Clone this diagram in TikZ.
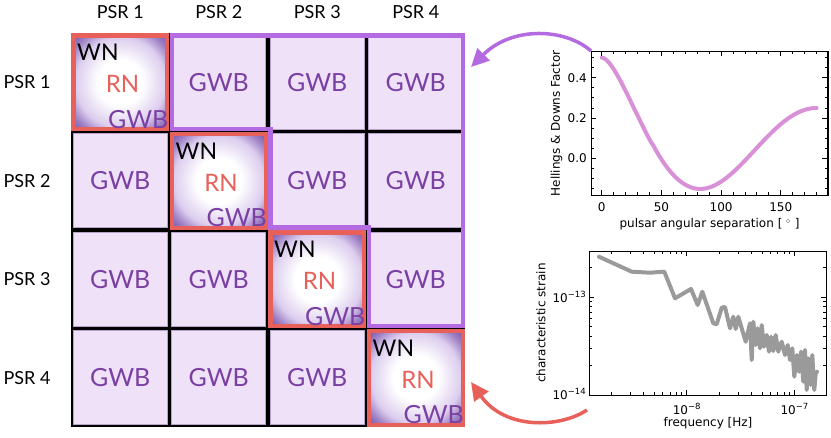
\documentclass[tikz,border=0pt]{standalone}
\usepackage{fontspec}
\setmainfont{Lato}
\newfontfamily\mplfont{DejaVu Sans}
\usetikzlibrary{arrows.meta}
\definecolor{cellfill}{HTML}{EFE1F8}
\definecolor{cellborder}{HTML}{B8A2CA}
\definecolor{gwbtext}{HTML}{7A40A4}
\definecolor{rntext}{HTML}{E8605A}
\definecolor{redline}{HTML}{E8605A}
\definecolor{purpline}{HTML}{B46BE1}
\definecolor{hdcurve}{HTML}{D890D6}
\definecolor{straincol}{HTML}{9A9A9A}
\definecolor{shmid}{HTML}{DCCDEE}
\definecolor{shdark}{HTML}{7650AA}
\pgfdeclareradialshading{diagshade}{\pgfpoint{0bp}{0bp}}{color(0bp)=(white); color(12bp)=(white); color(24bp)=(shmid); color(30bp)=(shdark!60!shmid); color(35.4bp)=(shdark); color(50bp)=(shdark)}
\tikzset{
  declare function={hdx(\t)=(1-cos(\t))/2; hdg(\t)=1.5*hdx(\t)*ln(hdx(\t))-hdx(\t)/4+0.5;},
  gwbcell/.style={draw=cellborder, line width=0.6pt, fill=cellfill, minimum size=94pt, inner sep=0pt, text=gwbtext, font=\fontsize{25}{25}\selectfont},
  diagcell/.style={shading=diagshade, minimum size=94pt, inner sep=0pt},
  redbox/.style={draw=redline, line width=4.2pt},
  purpbox/.style={draw=purpline, line width=4.5pt, line join=miter},
  psrlabel/.style={font=\fontsize{18}{18}\selectfont, inner sep=0pt},
  wnlabel/.style={font=\fontsize{23}{23}\selectfont, inner sep=0pt, anchor=base west},
  rnlabel/.style={font=\fontsize{24}{24}\selectfont, inner sep=0pt, text=rntext},
  gwblabel/.style={font=\fontsize{25}{25}\selectfont, inner sep=0pt, anchor=base east, text=gwbtext},
  plotbox/.style={draw=black, line width=1.3pt, inner sep=0pt, anchor=north west},
  mpl/.style={font=\mplfont\fontsize{12}{12}\selectfont, inner sep=0pt},
  tickmark/.style={draw=black, line width=0.8pt},
  hdline/.style={draw=hdcurve, line width=4pt, line cap=round, line join=round},
  strainline/.style={draw=straincol, line width=4pt, line cap=round, line join=round},
  purparrow/.style={draw=purpline, line width=3.5pt, -{Triangle[length=18pt,width=17pt]}},
  redarrow/.style={draw=redline, line width=3.5pt, -{Triangle[length=18pt,width=17pt]}}
}
\newcommand{\sups}[1]{\raisebox{5pt}{\mplfont\fontsize{8.5}{8.5}\selectfont #1}}
\begin{document}
\begin{tikzpicture}[x=1pt,y=-1pt]
\useasboundingbox (0,0) rectangle (831,438);
% matrix
\fill[black] (71,33) rectangle (465,427);
\foreach \r in {0,...,3}{
  \foreach \c in {0,...,3}{
    \pgfmathsetmacro\cx{120.25+98.5*\c}
    \pgfmathsetmacro\cy{82.25+98.5*\r}
    \ifnum\r=\c
      \node[diagcell] (cell\r\c) at (\cx,\cy) {};
    \else
      \node[gwbcell] (cell\r\c) at (\cx,\cy) {GWB};
    \fi
  }
}
% purple staircase outline
\draw[purpbox] (171.75,35.5) -- (463,35.5) -- (463,326.25) -- (368.75,326.25) -- (368.75,227.75) -- (270.25,227.75) -- (270.25,129.25) -- (171.75,129.25) -- cycle;
% red boxes and diagonal labels
\foreach \k in {0,...,3}{
  \pgfmathsetmacro\xa{71+98.5*\k}
  \pgfmathsetmacro\ya{33+98.5*\k}
  \draw[redbox] (\xa+2.5,\ya+2.5) rectangle (\xa+96.25,\ya+96.25);
  \node[wnlabel] (wn\k) at (\xa+6,\ya+28) {WN};
  \node[rnlabel] (rn\k) at (\xa+51.5,\ya+51) {RN};
  \node[gwblabel] (gw\k) at (\xa+97.5,\ya+95.5) {GWB};
}
% row / column labels
\foreach \k in {1,...,4}{
  \node[psrlabel] (col\k) at ({120.25+98.5*(\k-1)},12) {PSR \k};
  \node[psrlabel] (row\k) at (27,{82.25+98.5*(\k-1)}) {PSR \k};
}
% ---------- Hellings & Downs plot ----------
\draw[hdline] (601.7,57.6) -- plot[domain=1.5:180, samples=100] ({591+(\x+9)*1.1934},{195-(hdg(\x)+0.182)*201.5});
\foreach \t in {0,50,100,150}{
  \draw[tickmark] ({591+(\t+9)*1.1934},195) -- ++(0,-5);
  \draw[tickmark] ({591+(\t+9)*1.1934},51) -- ++(0,5);
  \node[mpl] (hdxt\t) at ({591+(\t+9)*1.1934},207) {\t};
}
\foreach \t in {10,20,30,40,60,70,80,90,110,120,130,140,160,170,180}{
  \draw[tickmark] ({591+(\t+9)*1.1934},195) -- ++(0,-2.7);
  \draw[tickmark] ({591+(\t+9)*1.1934},51) -- ++(0,2.7);
}
\foreach \v/\lab in {0/0.0,0.2/0.2,0.4/0.4}{
  \draw[tickmark] (591,{195-(\v+0.182)*201.5}) -- ++(5,0);
  \draw[tickmark] (827.3,{195-(\v+0.182)*201.5}) -- ++(-5,0);
  \node[mpl, anchor=east] (hdyt\lab) at (587,{195-(\v+0.182)*201.5}) {\lab};
}
\foreach \v in {-0.15,-0.1,-0.05,0.05,0.1,0.15,0.25,0.3,0.35,0.45,0.5}{
  \draw[tickmark] (591,{195-(\v+0.182)*201.5}) -- ++(2.7,0);
  \draw[tickmark] (827.3,{195-(\v+0.182)*201.5}) -- ++(-2.7,0);
}
\node[plotbox, minimum width=236.3pt, minimum height=144pt] (hd) at (591,51) {};
\node[mpl, rotate=90] (hdylab) at (556.5,123.5) {Hellings \& Downs Factor};
\node[mpl, anchor=base] (hdxlab) at (709.5,227.5) {pulsar angular separation [ $^\circ$ ]};
% ---------- strain plot ----------
\draw[strainline] (599,256.7) -- (631.7,271.7) -- (650,272.7) -- (664.3,271.7) -- (675,298.3) -- (691,289) -- (697.7,305) -- (702.3,291.7) -- (713.3,323.3) -- (716.7,324.3) -- (721.7,307.7) -- (725,307) -- (730,328.3) -- (733.3,316.7) -- (735.7,329) -- (738.3,316.7) -- (741.7,328.3) -- (745.7,341.7) -- (750,323.3) -- (751.7,360) -- (753.3,321.7) -- (755.7,345) -- (757.7,328.3) -- (760,348.3) -- (761.7,325) -- (764,346.7) -- (766.7,335) -- (769,351.7) -- (771,336.7) -- (773.3,351) -- (775.7,335) -- (778.3,351.7) -- (781.7,341.7) -- (785,355) -- (787.7,345) -- (790,360) -- (792.3,348.3) -- (794.3,376.7) -- (796.7,355) -- (799,371.7) -- (801,351.7) -- (803.3,381.7) -- (805,350) -- (806.7,390) -- (808.3,358.3) -- (810.7,385) -- (812.3,355) -- (814.3,390) -- (815.7,373.3) -- (817,371.7);
\foreach \xm in {686.7,794.4}{
  \draw[tickmark] (\xm,395) -- ++(0,-5);
  \draw[tickmark] (\xm,251) -- ++(0,5);
}
\foreach \k in {2,...,9}{
  \draw[tickmark] ({589+(log10(\k)-0.093)*107.7},395) -- ++(0,-2.7);
  \draw[tickmark] ({589+(log10(\k)-0.093)*107.7},251) -- ++(0,2.7);
  \draw[tickmark] ({589+(log10(\k)+0.907)*107.7},395) -- ++(0,-2.7);
  \draw[tickmark] ({589+(log10(\k)+0.907)*107.7},251) -- ++(0,2.7);
  \draw[tickmark] (589,{395-log10(\k)*98}) -- ++(2.7,0);
  \draw[tickmark] (825.7,{395-log10(\k)*98}) -- ++(-2.7,0);
}
\draw[tickmark] (589,267.5) -- ++(2.7,0);
\draw[tickmark] (825.7,267.5) -- ++(-2.7,0);
\draw[tickmark] (589,297) -- ++(5,0);
\draw[tickmark] (825.7,297) -- ++(-5,0);
\node[plotbox, minimum width=236.7pt, minimum height=144pt] (hc) at (589,251) {};
\node[mpl, anchor=east] (hcy13) at (586,297) {10\sups{−13}};
\node[mpl, anchor=east] (hcy14) at (586,394) {10\sups{−14}};
\node[mpl] (hcx8) at (686.7,409) {10\sups{−8}};
\node[mpl] (hcx7) at (794.4,409) {10\sups{−7}};
\node[mpl, rotate=90] (hcylab) at (541,323) {characteristic strain};
\node[mpl, anchor=base] (hcxlab) at (708,427) {frequency [Hz]};
% ---------- arrows ----------
\coordinate (purpend) at (471,67);
\coordinate (redstart) at (587,410);
\coordinate (redend) at (471,382);
\draw[purparrow] (hd.north west) .. controls (565,28) and (512,26) .. (purpend);
\draw[redarrow] (redstart) .. controls (560,428) and (505,430) .. (redend);
\end{tikzpicture}
\end{document}
